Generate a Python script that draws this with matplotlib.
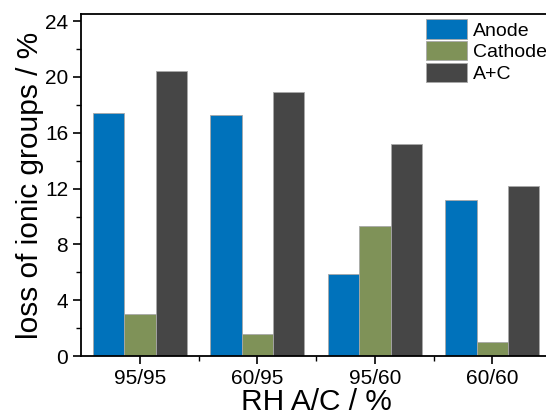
import matplotlib.pyplot as plt
import numpy as np
from matplotlib.ticker import MultipleLocator, FixedLocator

plt.rcParams['font.family'] = ['Liberation Sans', 'DejaVu Sans']

categories = ['95/95', '60/95', '95/60', '60/60']
anode = [17.4, 17.3, 5.85, 11.2]
cathode = [3.0, 1.6, 9.35, 1.0]
a_plus_c = [20.4, 18.9, 15.2, 12.2]

series = [('Anode', anode, '#0072BB'),
          ('Cathode', cathode, '#7F9258'),
          ('A+C', a_plus_c, '#464646')]

fig = plt.figure(figsize=(5.46, 4.17), dpi=100)
ax = fig.add_axes([0.149, 0.146, 0.86, 0.82])

x = np.arange(len(categories))
w = 0.267
for i, (name, vals, col) in enumerate(series):
    ax.bar(x + (i - 1) * w, vals, width=w, color=col, edgecolor='#a8a8a8',
           linewidth=0.6, label=name)

ax.set_xlim(-0.5, 3.5)
ax.set_ylim(0, 24.5)
ax.set_xticks(x)
ax.set_xticklabels(categories)
ax.xaxis.set_minor_locator(FixedLocator([0.5, 1.5, 2.5]))
ax.yaxis.set_major_locator(MultipleLocator(4))
ax.yaxis.set_minor_locator(MultipleLocator(2))

for s in ax.spines.values():
    s.set_linewidth(1.3)
ax.tick_params(which='major', direction='out', length=6, width=1.2, labelsize=15)
ax.tick_params(which='minor', direction='out', length=3.5, width=1.0)

ax.set_xlabel('RH A/C / %', fontsize=21.5, labelpad=0)
ax.set_ylabel('loss of ionic groups / %', fontsize=21.5, labelpad=1)

ax.legend(loc='upper left', bbox_to_anchor=(0.735, 0.985), frameon=False,
          fontsize=14, handlelength=2.1, handleheight=1.15, labelspacing=0.08,
          handletextpad=0.3, borderpad=0, borderaxespad=0)

fig.savefig('out.png', dpi=100)
